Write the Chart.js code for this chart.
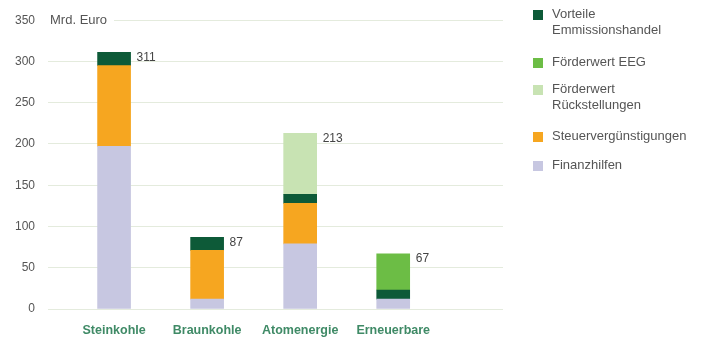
<!DOCTYPE html>
<html>
<head>
<meta charset="utf-8">
<script src="https://cdn.jsdelivr.net/npm/chart.js@4.4.1/dist/chart.umd.min.js"></script>
<style>
  html, body { margin: 0; padding: 0; background: #fff; }
  #wrap { position: relative; width: 702px; height: 338px; }
  #c { position: absolute; left: 0; top: 0; }
  #legend { position: absolute; left: 533px; top: 0; font: 13px "Liberation Sans", Arial, sans-serif; color: #555; }
  .li { position: absolute; left: 0; white-space: nowrap; line-height: 16px; }
  .sw { position: absolute; left: 0; width: 10px; height: 10px; }
  .tx { position: absolute; left: 19px; }
</style>
</head>
<body>
<div id="wrap">
  <canvas id="c" width="702" height="338"></canvas>
  <div id="legend"></div>
</div>
<script>
// ---- data ----
const categories = ["Steinkohle", "Braunkohle", "Atomenergie", "Erneuerbare"];
const finanzhilfen = [197, 12, 79, 12];
const steuerverguenstigungen = [98, 59, 49, null];
const emissionshandel = [16, 16, 11, 11];
const rueckstellungen = [null, null, 74, null];
const eeg = [null, null, null, 44];
const totals = [311, 87, 213, 67];
const yTicks = [0, 50, 100, 150, 200, 250, 300, 350];
const unitLabel = "Mrd. Euro";

const colors = {
  fin: "#c7c7e1",
  steuer: "#f6a620",
  emis: "#0d5a38",
  rueck: "#c8e3b3",
  eeg: "#6cbd45"
};

const series = [
  { label: "Finanzhilfen", legend: ["Finanzhilfen"], data: finanzhilfen, color: colors.fin },
  { label: "Steuervergünstigungen", legend: ["Steuervergünstigungen"], data: steuerverguenstigungen, color: colors.steuer },
  { label: "Vorteile Emmissionshandel", legend: ["Vorteile", "Emmissionshandel"], data: emissionshandel, color: colors.emis },
  { label: "Förderwert Rückstellungen", legend: ["Förderwert", "Rückstellungen"], data: rueckstellungen, color: colors.rueck },
  { label: "Förderwert EEG", legend: ["Förderwert EEG"], data: eeg, color: colors.eeg }
];

const FONT = '"Liberation Sans", Arial, sans-serif';

const datasets = series.map(s => ({
  label: s.label,
  data: s.data.map((v, i) => ({ x: i, y: v })),
  backgroundColor: s.color,
  borderWidth: 0,
  barThickness: 33
}));

const extrasPlugin = {
  id: "extras",
  afterDatasetsDraw(chart) {
    const ctx = chart.ctx;
    const y = chart.scales.y;
    const x = chart.scales.x;
    ctx.save();
    const yTop = y.getPixelForValue(350);
    ctx.fillStyle = "#fff";
    ctx.fillRect(chart.chartArea.left - 1, yTop - 6, 67, 12);
    ctx.fillStyle = "#555";
    ctx.font = "13px " + FONT;
    ctx.textBaseline = "middle";
    ctx.textAlign = "left";
    ctx.fillText(unitLabel, chart.chartArea.left + 2, yTop);
    ctx.font = "12px " + FONT;
    ctx.fillStyle = "#444";
    totals.forEach((t, i) => {
      const px = x.getPixelForValue(i) + 16.5 + 6;
      const py = y.getPixelForValue(t) + 5;
      ctx.fillText(String(t), px, py);
    });
    ctx.restore();
  }
};

new Chart(document.getElementById("c"), {
  type: "bar",
  data: { datasets },
  options: {
    responsive: false,
    animation: false,
    layout: { padding: { left: 2, right: 199, top: 11, bottom: -14 } },
    plugins: { legend: { display: false }, tooltip: { enabled: false } },
    scales: {
      x: {
        type: "linear",
        stacked: true,
        offset: false,
        bounds: "data",
        min: -0.71,
        max: 4.18,
        grid: { display: false, drawTicks: false, offset: false },
        border: { display: false },
        afterBuildTicks(scale) { scale.ticks = categories.map((c, i) => ({ value: i })); },
        afterFit(scale) { scale.paddingLeft = 0; scale.paddingRight = 0; },
        ticks: {
          autoSkip: false,
          maxRotation: 0,
          minRotation: 0,
          padding: 14,
          color: "#3f8a66",
          font: { family: FONT, size: 12.5, weight: "bold" },
          callback: v => categories[v]
        }
      },
      y: {
        stacked: true,
        min: 0,
        max: 350,
        afterBuildTicks(scale) { scale.ticks = yTicks.map(v => ({ value: v })); },
        grid: { color: "#e4ebdd", lineWidth: 1, drawTicks: false },
        border: { display: false },
        ticks: {
          padding: 13,
          color: "#555",
          font: { family: FONT, size: 12 }
        }
      }
    }
  },
  plugins: [extrasPlugin]
});

const legendOrder = [2, 4, 3, 1, 0];
const legendTops = [6, 54, 81, 128, 157];
const legendEl = document.getElementById("legend");
legendOrder.forEach((si, k) => {
  const s = series[si];
  const item = document.createElement("div");
  item.className = "li";
  item.style.top = legendTops[k] + "px";
  const sw = document.createElement("div");
  sw.className = "sw";
  sw.style.background = s.color;
  sw.style.top = "4px";
  const tx = document.createElement("div");
  tx.className = "tx";
  tx.innerHTML = s.legend.join("<br>");
  item.appendChild(sw);
  item.appendChild(tx);
  legendEl.appendChild(item);
});
</script>
</body>
</html>
